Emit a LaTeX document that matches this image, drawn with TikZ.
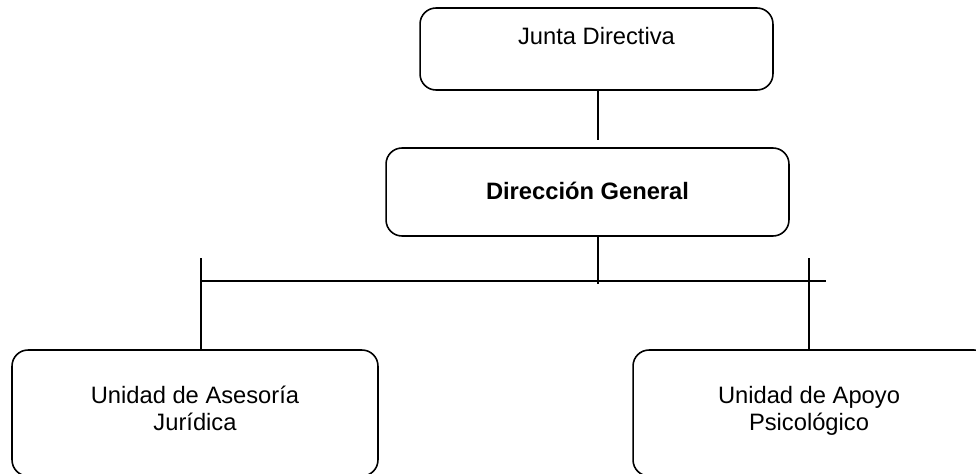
\documentclass[tikz,border=0pt]{standalone}
\usepackage{fontspec}
\setmainfont{Liberation Sans}
\begin{document}
\begin{tikzpicture}[x=0.02cm,y=-0.02cm,
  box/.style={draw=black, line width=0.9pt, rounded corners=0.32cm, inner sep=0pt, fill=none},
  txt/.style={font=\fontsize{13.5}{15.37}\selectfont, align=center, inner sep=0pt},
  conn/.style={draw=black, line width=0.9pt}]
\useasboundingbox (0,0) rectangle (976,473);
\clip (0,0) rectangle (976,473);
\fill[white] (0,0) rectangle (976,473);
% boxes
\node[box, minimum width=7.06cm, minimum height=1.64cm] (junta) at (596.5,49) {};
\node[box, minimum width=8.06cm, minimum height=1.76cm] (dg) at (587.5,192) {};
\node[box, minimum width=7.32cm, minimum height=2.52cm] (uaj) at (195,413) {};
\node[box, minimum width=7.14cm, minimum height=2.52cm] (uap) at (811.5,413) {};
% texts
\node[txt, anchor=base] (tjunta) at (596.5,45) {Junta Directiva};
\node[txt, anchor=base, font=\fontsize{13.5}{15.37}\selectfont\bfseries] (tdg) at (587.5,199) {Dirección General};
\node[txt, anchor=base] (tuaj) at (195,430) {Unidad de Asesoría\\Jurídica};
\node[txt, anchor=base] (tuap) at (809,430) {Unidad de Apoyo\\Psicológico};
% connector coordinates
\coordinate (j1) at (598,90);
\coordinate (j2) at (598,140);
\coordinate (d1) at (598,236);
\coordinate (d2) at (598,284);
\coordinate (hl) at (202,281);
\coordinate (hr) at (826,281);
\coordinate (l1) at (201,258);
\coordinate (r1) at (809,258);
% connectors
\draw[conn] (j1) -- (j2);
\draw[conn] (d1) -- (d2);
\draw[conn] (hl) -- (hr);
\draw[conn] (l1) -- (l1 |- uaj.north);
\draw[conn] (r1) -- (r1 |- uap.north);
\end{tikzpicture}
\end{document}
